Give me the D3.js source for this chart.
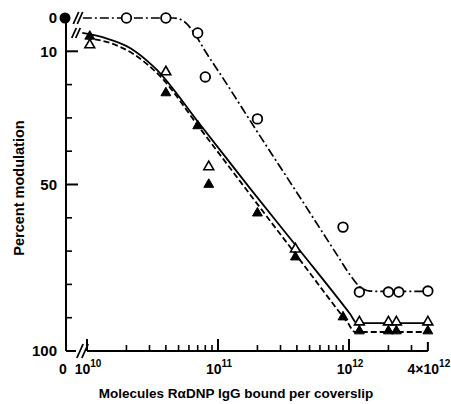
<!DOCTYPE html>
<html>
<head>
<meta charset="utf-8">
<script src="https://cdn.jsdelivr.net/npm/d3@7"></script>
<style>
  html, body { margin: 0; padding: 0; background: #fff; }
  svg text { font-family: "Liberation Sans", Arial, sans-serif; fill: #000; }
</style>
</head>
<body>
<svg id="chart" width="451" height="404"></svg>
<script>
// ---- data ----
// open circles, dash-dot line
const circleX = [2e10, 4e10, 7e10, 8e10, 2e11, 9e11, 1.2e12, 2e12, 2.4e12, 4e12];
const circleY = [0, 0, 4.5, 17.7, 30.3, 62.8, 82.3, 82.3, 82.3, 82];
// open triangles, solid line
const openTriX = [1.05e10, 4e10, 8.5e10, 3.9e11, 1.2e12, 2e12, 2.3e12, 4e12];
const openTriY = [8.1, 16.2, 44.7, 69.4, 91.3, 91.3, 91.3, 91.3];
// filled triangles, dashed line
const filledTriX = [1.05e10, 4e10, 7e10, 8.5e10, 2e11, 3.9e11, 9e11, 1.2e12, 2e12, 2.3e12, 4e12];
const filledTriY = [5.5, 22.5, 32.4, 50, 58.6, 71.8, 89.8, 94, 94, 94, 94];
// zero-antibody point (plotted at x = 0)
const zeroY = [0];

// fitted curves
const dashDotX = [9.3e9, 4.6e10, 5.5e10, 6.6e10, 8.0e10, 1.04e11, 2.09e11, 4.23e11, 8.53e11, 1.02e12, 1.2e12, 1.45e12, 1.8e12, 4e12];
const dashDotY = [0, 0, 1.0, 4.6, 10.0, 16.8, 35.4, 53.9, 72.5, 77.2, 80.6, 82.0, 82.1, 82.1];
const solidX = [9.2e9, 1.37e10, 2.13e10, 3.3e10, 7.3e10, 1.75e11, 4.23e11, 1.02e12, 1.15e12, 4e12];
const solidY = [4.5, 6, 9, 15, 32.0, 51.1, 69.9, 88.9, 91.6, 91.6];
const dashedX = [9.8e9, 1.5e10, 2.3e10, 3.6e10, 7.3e10, 1.75e11, 4.23e11, 9.8e11, 1.11e12, 4e12];
const dashedY = [6, 7.5, 11, 17.4, 33.2, 52.9, 72.7, 91.6, 94.3, 94.3];

// axes
const yMajorTicks = [10, 50];
const yMinorTicks = [20, 30, 40, 60, 70, 80, 90];
const yLabels = [0, 10, 50, 100];
const xMajorTicks = [1e10, 1e11, 1e12];
const xMinorTicks = [2e10,3e10,4e10,5e10,6e10,7e10,8e10,9e10,
                     2e11,3e11,4e11,5e11,6e11,7e11,8e11,9e11,
                     2e12,3e12];
const xEndTick = [4e12];
const xLabels = [{pre:"10", exp:"10", v:1e10}, {pre:"10", exp:"11", v:1e11},
                 {pre:"10", exp:"12", v:1e12}, {pre:"4\u00d710", exp:"12", v:4e12}];

// ---- drawing ----
const svg = d3.select("#chart");
const x = d3.scaleLog().domain([1e10, 1e12]).range([87, 349]);
const y = d3.scaleLinear().domain([0, 100]).range([18, 351]);
const xZero = 65;
const ink = "#000";

// y axis
svg.append("line").attr("x1", 66).attr("x2", 66).attr("y1", y(0)).attr("y2", y(100))
  .attr("stroke", ink).attr("stroke-width", 2);
svg.selectAll(".ymaj").data(yMajorTicks).enter().append("line")
  .attr("x1", 66).attr("x2", 78).attr("y1", d => y(d)).attr("y2", d => y(d))
  .attr("stroke", ink).attr("stroke-width", 2);
svg.selectAll(".ymin").data(yMinorTicks).enter().append("line")
  .attr("x1", 66).attr("x2", 72).attr("y1", d => y(d)).attr("y2", d => y(d))
  .attr("stroke", ink).attr("stroke-width", 1.6);
svg.selectAll(".ylab").data(yLabels).enter().append("text")
  .attr("x", 57).attr("y", d => y(d)).attr("dy", "0.36em")
  .attr("text-anchor", "end").attr("font-size", 15).attr("font-weight", "bold")
  .text(d => d);

// x axis
svg.append("line").attr("x1", 66).attr("x2", 76).attr("y1", y(100)).attr("y2", y(100))
  .attr("stroke", ink).attr("stroke-width", 2);
svg.append("line").attr("x1", x(1e10)).attr("x2", x(4e12)).attr("y1", y(100)).attr("y2", y(100))
  .attr("stroke", ink).attr("stroke-width", 2);
svg.selectAll(".xmaj").data(xMajorTicks).enter().append("line")
  .attr("x1", d => x(d)).attr("x2", d => x(d)).attr("y1", y(100)).attr("y2", y(100) - 12)
  .attr("stroke", ink).attr("stroke-width", 2);
svg.selectAll(".xmin").data(xMinorTicks).enter().append("line")
  .attr("x1", d => x(d)).attr("x2", d => x(d)).attr("y1", y(100)).attr("y2", y(100) - 6)
  .attr("stroke", ink).attr("stroke-width", 1.6);
svg.selectAll(".xend").data(xEndTick).enter().append("line")
  .attr("x1", d => x(d)).attr("x2", d => x(d)).attr("y1", y(100)).attr("y2", y(100) - 9)
  .attr("stroke", ink).attr("stroke-width", 2);

svg.append("text").attr("x", xZero - 2).attr("y", 374).attr("text-anchor", "middle")
  .attr("font-size", 14).attr("font-weight", "bold").text("0");
const xl = svg.selectAll(".xlab").data(xLabels).enter().append("text")
  .attr("x", d => d.v === 1e10 ? x(d.v) + 1 : x(d.v) + 1).attr("y", 374)
  .attr("text-anchor", "middle")
  .attr("font-size", 14).attr("font-weight", "bold");
xl.append("tspan").text(d => d.pre);
xl.append("tspan").attr("dy", -7).attr("font-size", 10).text(d => d.exp);

// axis titles
svg.append("text").attr("x", 236).attr("y", 398).attr("text-anchor", "middle")
  .attr("font-size", 13.5).attr("font-weight", "bold")
  .text("Molecules R\u03b1DNP IgG bound per coverslip");
svg.append("text").attr("transform", "translate(24,188) rotate(-90)")
  .attr("text-anchor", "middle").attr("font-size", 14.5).attr("font-weight", "bold")
  .text("Percent modulation");

// break marks
function slashes(cx, cy, h, gap) {
  [0, gap].forEach(o => {
    svg.append("line")
      .attr("x1", cx + o - h * 0.45).attr("y1", cy + h)
      .attr("x2", cx + o + h * 0.45).attr("y2", cy - h)
      .attr("stroke", ink).attr("stroke-width", 1.8);
  });
}
slashes(76, y(0), 6, 4);
slashes(74, 33, 5, 4);
slashes(80, y(100), 7, 5);

// curves
const line = d3.line().x(d => x(d[0])).y(d => y(d[1])).curve(d3.curveMonotoneX);
svg.append("path").datum(d3.zip(dashDotX, dashDotY)).attr("d", line)
  .attr("fill", "none").attr("stroke", ink).attr("stroke-width", 1.7)
  .attr("stroke-dasharray", "9,3,2,3");
svg.append("path").datum(d3.zip(solidX, solidY)).attr("d", line)
  .attr("fill", "none").attr("stroke", ink).attr("stroke-width", 1.8);
svg.append("path").datum(d3.zip(dashedX, dashedY)).attr("d", line)
  .attr("fill", "none").attr("stroke", ink).attr("stroke-width", 1.8)
  .attr("stroke-dasharray", "6,3");

// markers
svg.selectAll(".circ").data(d3.zip(circleX, circleY)).enter().append("circle")
  .attr("cx", d => x(d[0])).attr("cy", d => y(d[1])).attr("r", 4.8)
  .attr("fill", "#fff").attr("stroke", ink).attr("stroke-width", 1.8);
const tri = d3.symbol().type(d3.symbolTriangle).size(42);
svg.selectAll(".otri").data(d3.zip(openTriX, openTriY)).enter().append("path")
  .attr("d", tri).attr("transform", d => `translate(${x(d[0])},${y(d[1])})`)
  .attr("fill", "#fff").attr("stroke", ink).attr("stroke-width", 1.6);
svg.selectAll(".ftri").data(d3.zip(filledTriX, filledTriY)).enter().append("path")
  .attr("d", tri).attr("transform", d => `translate(${x(d[0])},${y(d[1])})`)
  .attr("fill", ink).attr("stroke", ink).attr("stroke-width", 1);
svg.selectAll(".zero").data(zeroY).enter().append("circle")
  .attr("cx", xZero).attr("cy", d => y(d)).attr("r", 5.5).attr("fill", ink);
</script>
</body>
</html>
